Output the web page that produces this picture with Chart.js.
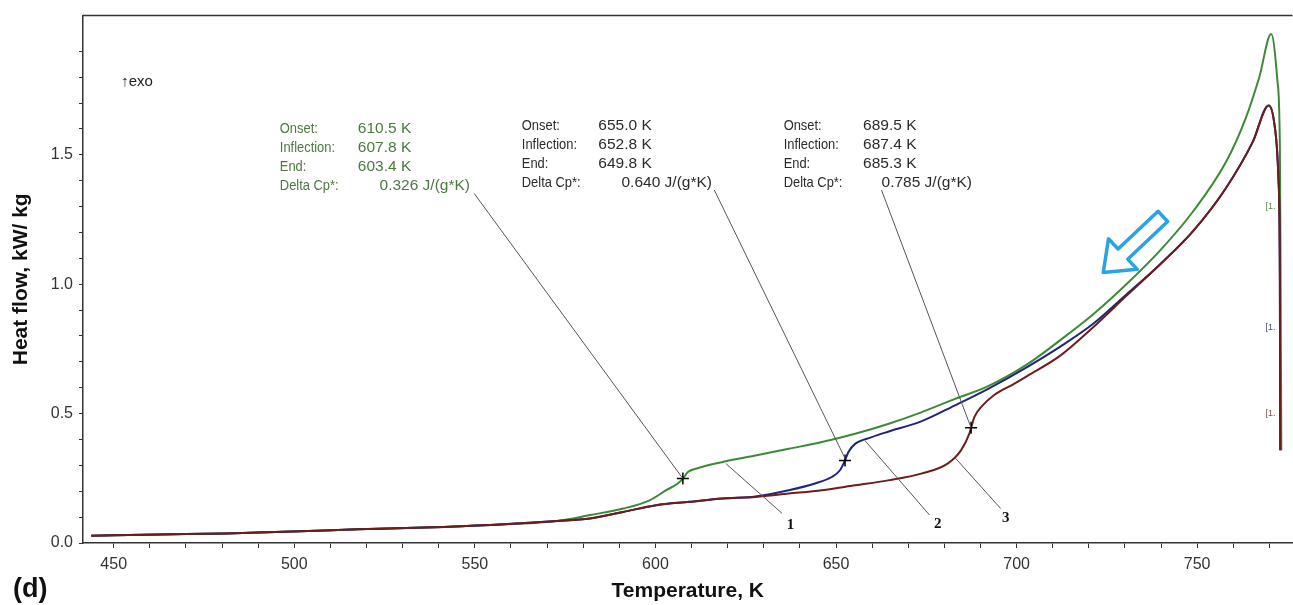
<!DOCTYPE html>
<html>
<head>
<meta charset="utf-8">
<script src="https://cdn.jsdelivr.net/npm/chart.js@4.4.1/dist/chart.umd.min.js"></script>
<style>
html,body{margin:0;padding:0;background:#fff;overflow:hidden;}
#wrap{width:1300px;height:605px;}
</style>
</head>
<body>
<div id="wrap"><canvas id="c" width="1300" height="605"></canvas></div>
<script>
// ---- data (temperature K, heat flow kW/kg) ----
const commonT = [443.8, 462.6, 481.0, 499.3, 517.6, 536.0, 554.3, 572.7];
const commonV = [0.028, 0.033, 0.037, 0.044, 0.053, 0.060, 0.070, 0.085];

const greenT = [581.9, 591.1, 598.4, 603.0, 606.2, 607.6, 609.0, 611.2, 618.6, 627.7, 636.9, 646.1, 655.3, 664.4, 673.6, 682.8, 692.0, 702.9, 712.2, 721.3, 730.4, 739.7, 748.8, 757.9, 763.4, 767.2, 770.5, 772.2, 772.9, 773.1, 773.3];
const greenV = [0.108, 0.133, 0.165, 0.204, 0.230, 0.249, 0.274, 0.287, 0.313, 0.338, 0.364, 0.390, 0.422, 0.460, 0.505, 0.556, 0.605, 0.690, 0.785, 0.885, 1.000, 1.130, 1.280, 1.470, 1.640, 1.800, 1.967, 1.790, 1.537, 1.024, 0.358];

const blueT = [581.9, 591.1, 600.2, 609.4, 618.6, 627.7, 636.9, 644.2, 648.8, 651.1, 652.5, 653.4, 655.3, 659.9, 664.4, 673.6, 682.8, 692.0, 702.9, 712.2, 721.3, 730.4, 739.7, 748.8, 757.9, 765.4, 769.8, 771.3, 772.5, 772.9, 773.0];
const blueV = [0.095, 0.120, 0.146, 0.159, 0.172, 0.180, 0.204, 0.230, 0.255, 0.281, 0.319, 0.351, 0.383, 0.409, 0.430, 0.470, 0.531, 0.595, 0.680, 0.760, 0.848, 0.960, 1.076, 1.204, 1.370, 1.550, 1.691, 1.627, 1.409, 1.024, 0.358];

const redT = [581.9, 591.1, 600.2, 609.4, 618.6, 627.7, 636.9, 646.1, 655.3, 664.4, 673.6, 680.9, 684.6, 686.9, 687.4, 688.3, 690.1, 693.8, 699.3, 702.9, 712.2, 721.3, 730.4, 739.7, 748.8, 757.9, 765.4, 769.8, 771.3, 772.5, 772.9, 773.0];
const redV = [0.095, 0.120, 0.146, 0.159, 0.172, 0.178, 0.191, 0.204, 0.223, 0.242, 0.268, 0.307, 0.358, 0.422, 0.445, 0.486, 0.524, 0.572, 0.615, 0.645, 0.725, 0.835, 0.955, 1.076, 1.204, 1.370, 1.550, 1.691, 1.627, 1.409, 1.024, 0.358];

// inflection markers
const markT = [607.6, 652.5, 687.4];
const markV = [0.249, 0.319, 0.445];

// ticks
const xTickVals = [450,460,470,480,490,500,510,520,530,540,550,560,570,580,590,600,610,620,630,640,650,660,670,680,690,700,710,720,730,740,750,760,770];
const yTickVals = [0,0.1,0.2,0.3,0.4,0.5,0.6,0.7,0.8,0.9,1.0,1.1,1.2,1.3,1.4,1.5,1.6,1.7,1.8,1.9];

// annotation text
const annoLabels = ['Onset:', 'Inflection:', 'End:', 'Delta Cp*:'];
const greenVals = ['610.5 K', '607.8 K', '603.4 K', '0.326 J/(g*K)'];
const blueVals  = ['655.0 K', '652.8 K', '649.8 K', '0.640 J/(g*K)'];
const redVals   = ['689.5 K', '687.4 K', '685.3 K', '0.785 J/(g*K)'];
const curveNums = ['1', '2', '3'];

const toPts = (T, V) => T.map((t, i) => ({x: t, y: V[i]}));

const COL_G = '#3b8a35', COL_B = '#202578', COL_R = '#6e1d1d';

const annoPlugin = {
  id: 'anno',
  afterDatasetsDraw(chart) {
    const ctx = chart.ctx, xs = chart.scales.x, ys = chart.scales.y, ca = chart.chartArea;
    const px = t => xs.getPixelForValue(t), py = v => ys.getPixelForValue(v);
    ctx.save();
    // top frame line
    ctx.strokeStyle = '#333'; ctx.lineWidth = 1.5;
    ctx.beginPath(); ctx.moveTo(ca.left, ca.top); ctx.lineTo(ca.right, ca.top); ctx.stroke();

    // leader lines
    const leaders = [
      [549.8, 1.351, markT[0], markV[0]],
      [616.3, 1.364, markT[1], markV[1] + 0.008],
      [662.6, 1.364, markT[2], markV[2]],
      [619.5, 0.307, 635.1, 0.114],
      [658.0, 0.396, 675.9, 0.108],
      [682.8, 0.332, 695.6, 0.133]
    ];
    ctx.strokeStyle = '#555'; ctx.lineWidth = 1;
    leaders.forEach(l => {
      ctx.beginPath(); ctx.moveTo(px(l[0]), py(l[1])); ctx.lineTo(px(l[2]), py(l[3])); ctx.stroke();
    });

    // curve numbers
    const numPos = [[637.4, 0.069], [678.2, 0.073], [697.0, 0.096]];
    ctx.fillStyle = '#111'; ctx.font = 'bold 15px "Liberation Serif", serif';
    ctx.textAlign = 'center'; ctx.textBaseline = 'middle';
    numPos.forEach((p, i) => ctx.fillText(curveNums[i], px(p[0]), py(p[1])));

    // text blocks
    const blocks = [
      {lab: 496.0, val: 517.6, dval: 523.6, top: 1.601, vals: greenVals, col: '#4a7a40'},
      {lab: 563.0, val: 584.2, dval: 590.6, top: 1.612, vals: blueVals, col: '#2b2b2b'},
      {lab: 635.5, val: 657.5, dval: 662.6, top: 1.612, vals: redVals, col: '#2b2b2b'}
    ];
    const dy = 0.073;
    ctx.textAlign = 'left';
    const labFont = '15px "Liberation Sans", Arial, sans-serif';
    const valFont = '15.5px "Liberation Sans", Arial, sans-serif';
    blocks.forEach(b => {
      ctx.fillStyle = b.col;
      annoLabels.forEach((l, i) => {
        const y = py(b.top - i * dy);
        ctx.font = labFont;
        ctx.save(); ctx.translate(px(b.lab), y); ctx.scale(0.86, 1); ctx.fillText(l, 0, 0); ctx.restore();
        ctx.font = valFont;
        ctx.fillText(b.vals[i], px(i === 3 ? b.dval : b.val), y);
      });
    });

    // exo label
    ctx.fillStyle = '#222';
    ctx.font = '15px "Liberation Sans", Arial, sans-serif';
    ctx.fillText('\u2191exo', px(452.1), py(1.781));

    // small cut-off labels at right edge
    ctx.font = '9px "Liberation Sans", Arial, sans-serif';
    [[1.30, '#5a8a50'], [0.831, '#444a80'], [0.50, '#8a4a4a']].forEach(s => {
      ctx.fillStyle = s[1]; ctx.fillText('[1.', px(768.9), py(s[0]));
    });

    // blue block arrow
    const tip = [px(724.0), py(1.045)], tail = [px(740.5), py(1.262)];
    const dx = tip[0] - tail[0], dyy = tip[1] - tail[1];
    const len = Math.hypot(dx, dyy), ux = dx / len, uy = dyy / len, nx = -uy, ny = ux;
    const hl = 27, hw = 21, sw = 7;
    const bx = tip[0] - ux * hl, by = tip[1] - uy * hl;
    ctx.beginPath();
    ctx.moveTo(tail[0] + nx * sw, tail[1] + ny * sw);
    ctx.lineTo(bx + nx * sw, by + ny * sw);
    ctx.lineTo(bx + nx * hw, by + ny * hw);
    ctx.lineTo(tip[0], tip[1]);
    ctx.lineTo(bx - nx * hw, by - ny * hw);
    ctx.lineTo(bx - nx * sw, by - ny * sw);
    ctx.lineTo(tail[0] - nx * sw, tail[1] - ny * sw);
    ctx.closePath();
    ctx.fillStyle = '#fff'; ctx.fill();
    ctx.strokeStyle = '#2aa3e2'; ctx.lineWidth = 3.5; ctx.lineJoin = 'round'; ctx.stroke();

    // panel label
    ctx.fillStyle = '#111'; ctx.font = 'bold 27px "Liberation Sans", Arial, sans-serif';
    ctx.textAlign = 'left'; ctx.textBaseline = 'middle';
    ctx.fillText('(d)', 13, 590);
    ctx.restore();
  }
};

const tickFont = {family: '"Liberation Sans", Arial, sans-serif', size: 16};

new Chart(document.getElementById('c'), {
  type: 'line',
  data: {
    datasets: [
      {label: 'markers', data: toPts(markT, markV), showLine: false, pointStyle: 'cross',
       pointRadius: 6, pointBorderColor: '#000', pointBorderWidth: 1.5, order: 0},
      {label: '3', data: toPts(commonT.concat(redT), commonV.concat(redV)), borderColor: COL_R,
       borderWidth: 2, pointRadius: 0, cubicInterpolationMode: 'monotone', order: 1},
      {label: '2', data: toPts(commonT.concat(blueT), commonV.concat(blueV)), borderColor: COL_B,
       borderWidth: 2, pointRadius: 0, cubicInterpolationMode: 'monotone', order: 2},
      {label: '1', data: toPts(commonT.concat(greenT), commonV.concat(greenV)), borderColor: COL_G,
       borderWidth: 2, pointRadius: 0, cubicInterpolationMode: 'monotone', order: 3}
    ]
  },
  options: {
    responsive: false,
    animation: false,
    events: [],
    layout: {padding: {top: 13, right: 0, left: 0, bottom: 0}},
    plugins: {legend: {display: false}, tooltip: {enabled: false}},
    scales: {
      x: {
        type: 'linear', min: 441.5, max: 776.4,
        afterBuildTicks: s => { s.ticks = xTickVals.map(v => ({value: v})); },
        afterFit: s => { s.height = 62; },
        grid: {drawOnChartArea: false, drawTicks: true, tickLength: 5, color: '#333', tickWidth: 1},
        border: {display: true, color: '#333', width: 1.5},
        ticks: {color: '#333', font: tickFont, padding: 7, maxRotation: 0, autoSkip: false,
                callback: v => (v % 50 === 0 ? String(v) : '')},
        title: {display: true, text: 'Temperature, K', color: '#111',
                font: {family: '"Liberation Sans", Arial, sans-serif', size: 21, weight: 'bold'},
                padding: {top: 0, bottom: 1}}
      },
      y: {
        type: 'linear', min: 0, max: 2.038,
        afterBuildTicks: s => { s.ticks = yTickVals.map(v => ({value: v})); },
        afterFit: s => { s.width = 83; },
        grid: {drawOnChartArea: false, drawTicks: true, tickLength: 4, color: '#333', tickWidth: 1},
        border: {display: true, color: '#333', width: 1.5},
        ticks: {color: '#333', font: tickFont, padding: 6, autoSkip: false,
                callback: v => (Math.abs(v * 2 - Math.round(v * 2)) < 1e-6 ? v.toFixed(1) : '')},
        title: {display: true, text: 'Heat flow, kW/ kg', color: '#111',
                font: {family: '"Liberation Sans", Arial, sans-serif', size: 21, weight: 'bold'},
                padding: {top: 9, bottom: 0}}
      }
    }
  },
  plugins: [annoPlugin]
});
</script>
</body>
</html>
